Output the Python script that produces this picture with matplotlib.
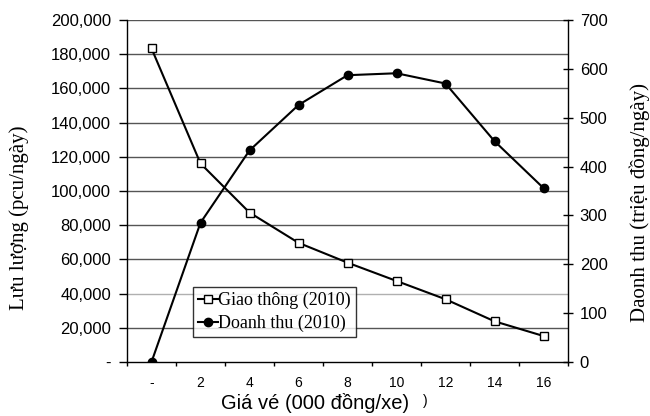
import numpy as np
from matplotlib import pyplot as plt
from matplotlib.ticker import FuncFormatter, FixedLocator

# gia ve (nghin dong/xe)
gia_ve = ["-", "2", "4", "6", "8", "10", "12", "14", "16"]
# luu luong giao thong nam 2010 (pcu/ngay)
giao_thong = [183400, 116100, 87400, 69700, 58100, 47400, 36700, 23800, 15200]
# doanh thu nam 2010 (trieu dong/ngay)
doanh_thu = [0, 285, 433, 526, 587, 591, 570, 452, 356]

plt.rcParams['font.family'] = ['Liberation Sans', 'DejaVu Sans']
serif = ['Liberation Serif', 'DejaVu Serif']

fig = plt.figure(figsize=(6.5, 4.16), dpi=100)
fig.subplots_adjust(left=127/650, right=568/650, top=1-20/416, bottom=1-362/416)
ax = fig.add_subplot(111)
x = np.arange(len(gia_ve))

ax.set_xlim(-0.5, len(gia_ve) - 0.5)
ax.set_ylim(0, 200000)
ax.set_yticks(np.arange(0, 200001, 20000))
ax.yaxis.set_major_formatter(FuncFormatter(lambda v, p: "-" if v == 0 else f"{int(v):,}"))
for v in np.arange(20000, 200001, 20000):
    c = "#b0b0b0" if v == 40000 else "#555555"
    ax.axhline(v, color=c, lw=1.0, zorder=0)

ax.set_xticks(x)
ax.set_xticklabels(gia_ve)
ax.xaxis.set_minor_locator(FixedLocator(np.arange(-0.5, len(gia_ve), 1)))
ax.tick_params(axis='x', which='major', length=0, pad=10, labelsize=10)
ax.tick_params(axis='x', which='minor', length=3, width=1, color='black')
ax.tick_params(axis='y', length=5.5, width=1, labelsize=12, pad=6)
for s in ['top', 'right']:
    ax.spines[s].set_visible(False)
ax.spines['left'].set_linewidth(1)
ax.spines['bottom'].set_linewidth(1)

ax2 = ax.twinx()
ax2.set_ylim(0, 700)
ax2.set_yticks(np.arange(0, 701, 100))
ax2.tick_params(axis='y', direction='inout', length=7, width=1, labelsize=12, pad=5)
ax2.spines['top'].set_visible(False)
ax2.spines['left'].set_visible(False)
ax2.spines['bottom'].set_visible(False)
ax2.spines['right'].set_linewidth(1)

l1, = ax2.plot(x, np.array(giao_thong) / 200000 * 700, color='black', lw=1.5,
               marker='s', markersize=5.5, markerfacecolor='white',
               markeredgecolor='black', markeredgewidth=1, label="Giao thông (2010)")
l2, = ax2.plot(x, doanh_thu, color='black', lw=1.5, marker='o', markersize=6,
               markerfacecolor='black', label="Doanh thu (2010)")

leg = ax2.legend(handles=[l1, l2], loc='upper left', bbox_to_anchor=(0.15, 0.218),
                 prop={'family': serif, 'size': 13}, frameon=True, fancybox=False,
                 handlelength=1.1, handletextpad=0.05, borderpad=0.25,
                 labelspacing=0.3, borderaxespad=0)
leg.get_frame().set_edgecolor('black')
leg.get_frame().set_linewidth(1)

fig.text(19/650, 1-218/416, "Lưu lượng (pcu/ngày)", rotation=90, ha='center', va='center',
         family=serif, fontsize=15)
fig.text(640/650, 1-203/416, "Daonh thu (triệu đồng/ngày)", rotation=90, ha='center',
         va='center', family=serif, fontsize=15)
fig.text(315/650, 1-403/416, "Giá vé (000 đồng/xe)", ha='center', va='center', fontsize=14.5)
fig.text(425/650, 1-401/416, ")", ha='center', va='center', fontsize=10)

plt.savefig("out.png", dpi=100)
